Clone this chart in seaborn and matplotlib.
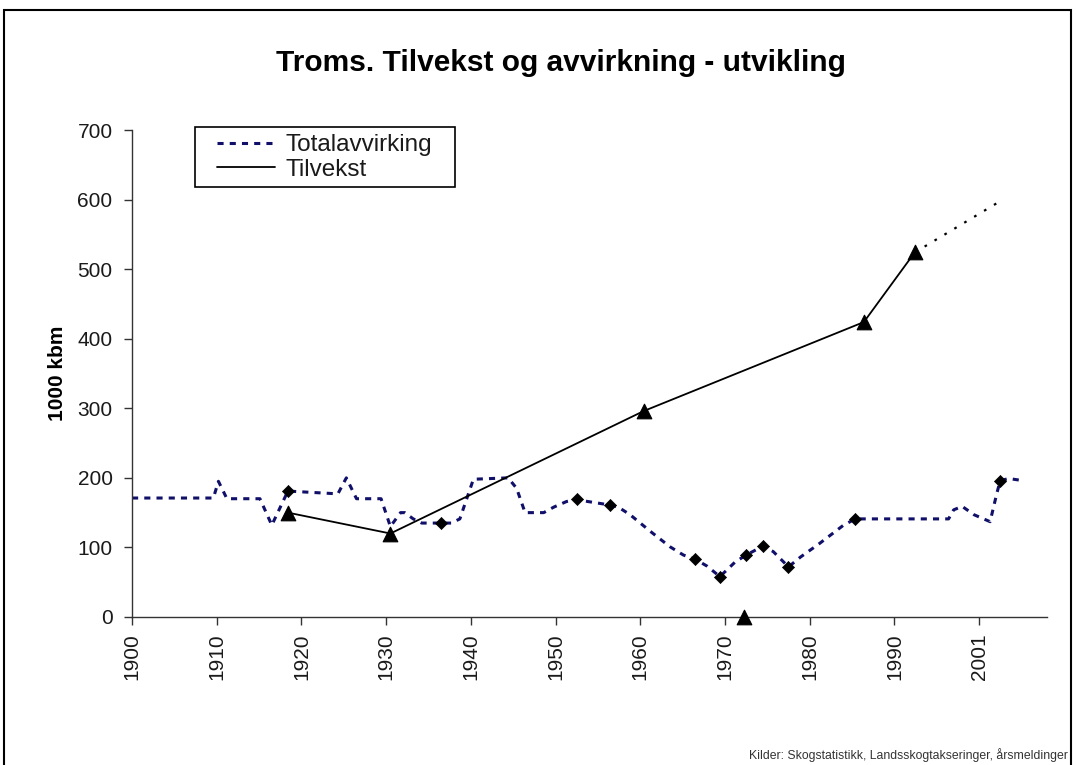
import matplotlib.pyplot as plt
from matplotlib.patches import Rectangle
from matplotlib.lines import Line2D
import seaborn as sns
import pandas as pd

# Totalavvirking (1000 kbm)
avv_year = [1900, 1909.6, 1910.2, 1911.2, 1915.1, 1916.5, 1918.4, 1924.3, 1925.3, 1926.5,
            1929.4, 1930.5, 1931.7, 1932.2, 1933.2, 1934.2, 1936.5, 1937.7, 1938.7, 1940.3,
            1944.4, 1945.4, 1946.4, 1948.6, 1949.8, 1951.3, 1952.5, 1953.8, 1956.4, 1957.4,
            1958.8, 1961.2, 1963.5, 1965.1, 1966.5, 1967.9, 1969.4, 1971.2, 1972.5, 1974.5,
            1975.7, 1977.5, 1978.9, 1981.2, 1984.0, 1985.4, 1996.4, 1997.0, 1998.0, 1999.4,
            2001.3, 2002.1, 2002.5, 2003.5, 2005.2]
avv_value = [171, 171, 195, 170, 170, 132, 181, 177, 200, 170,
             170, 130, 150, 150, 141, 135, 135, 135, 141, 198,
             200, 185, 150, 150, 158, 166, 169, 166, 161, 158,
             147, 123, 101, 89, 83, 73, 58, 79, 89, 102,
             94, 72, 86, 106, 132, 141, 141, 154, 159, 147,
             137, 178, 196, 199, 196]
avv_mark_year = [1918.4, 1936.5, 1952.5, 1956.4, 1966.5, 1969.4, 1972.5, 1974.5, 1977.5,
                 1985.4, 2002.5]
avv_mark_value = [181, 135, 169, 161, 83, 58, 89, 102, 72, 141, 196]

# Tilvekst
tilv_year = [1918.4, 1930.5, 1960.4, 1986.4, 1992.4]
tilv_value = [150, 120, 296, 424, 524]
proj_year = [1992.4, 2002.8]
proj_value = [524, 600]
lone_year = [1972.3]
lone_value = [0]

tick_pos = [1900, 1910, 1920, 1930, 1940, 1950, 1960, 1970, 1980, 1990, 2000]
tick_lab = ['1900', '1910', '1920', '1930', '1940', '1950', '1960', '1970', '1980', '1990', '2001']

sns.set_theme(style='ticks')
plt.rcParams['font.family'] = ['Liberation Sans', 'DejaVu Sans']

fig = plt.figure(figsize=(10.77, 7.65), dpi=100)
ax = fig.add_axes([0.1226, 0.1935, 0.972 - 0.1226, 0.830 - 0.1935])

navy = '#10106a'
avv = pd.DataFrame({'year': avv_year, 'value': avv_value})
sns.lineplot(data=avv, x='year', y='value', ax=ax, color=navy, linewidth=2.2,
             linestyle=(0, (2, 2)))
sns.scatterplot(x=avv_mark_year, y=avv_mark_value, ax=ax, marker='D', s=38,
                color='black', edgecolor='black', zorder=4)

tilv = pd.DataFrame({'year': tilv_year, 'value': tilv_value})
sns.lineplot(data=tilv, x='year', y='value', ax=ax, color='black', linewidth=1.3)
sns.lineplot(x=proj_year, y=proj_value, ax=ax, color='black', linewidth=1.6,
             linestyle=(0, (1.2, 4)))
sns.scatterplot(x=tilv_year + lone_year, y=tilv_value + lone_value, ax=ax, marker='^',
                s=110, color='black', edgecolor='black', zorder=5, clip_on=False)

ax.set_xlim(1900, 2008)
ax.set_ylim(0, 700)
ax.set_yticks(range(0, 701, 100))
ax.set_xticks(tick_pos)
ax.set_xticklabels(tick_lab, rotation=90)
ax.tick_params(axis='both', labelsize=15, length=6, width=1, color='#333333',
               labelcolor='#1a1a1a', direction='out')
ax.tick_params(axis='y', pad=8)
ax.tick_params(axis='x', pad=6)
ax.set_xlabel('')
ax.set_ylabel('1000 kbm', fontsize=15, fontweight='bold', color='black')
ax.yaxis.set_label_coords(-0.071, 0.5)
sns.despine(ax=ax)
for s in ['left', 'bottom']:
    ax.spines[s].set_color('#333333')
    ax.spines[s].set_linewidth(1)

handles = [Line2D([], [], color=navy, linewidth=2.2, linestyle=(0, (2, 2))),
           Line2D([], [], color='black', linewidth=1.3)]
leg = ax.legend(handles, ['Totalavvirking', 'Tilvekst'], loc='upper left',
                bbox_to_anchor=(217 / 1077, 1 - 134 / 765), bbox_transform=fig.transFigure,
                fontsize=17.5, frameon=False, handlelength=2.4,
                handletextpad=0.4, labelspacing=0.12, borderpad=0, borderaxespad=0)
for t in leg.get_texts():
    t.set_color('#1a1a1a')
# legend frame as drawn in the original
fig.patches.append(Rectangle((195 / 1077, 1 - 187 / 765), 260 / 1077, 60 / 765,
                             transform=fig.transFigure, fill=False, linewidth=1.2,
                             edgecolor='black'))

fig.text(561 / 1077, 1 - 63 / 765, 'Troms. Tilvekst og avvirkning - utvikling', ha='center',
         va='center', fontsize=21.5, fontweight='bold', color='black')
fig.text(1068 / 1077, 1 - 755 / 765, 'Kilder: Skogstatistikk, Landsskogtakseringer, årsmeldinger',
         ha='right', va='center', fontsize=8.8, color='#333333')

fig.patches.append(Rectangle((4 / 1077, -0.1), (1071 - 4) / 1077, 1 - 10 / 765 + 0.1,
                             transform=fig.transFigure, fill=False, linewidth=1.5,
                             edgecolor='black'))

fig.savefig('out.png', dpi=100)
